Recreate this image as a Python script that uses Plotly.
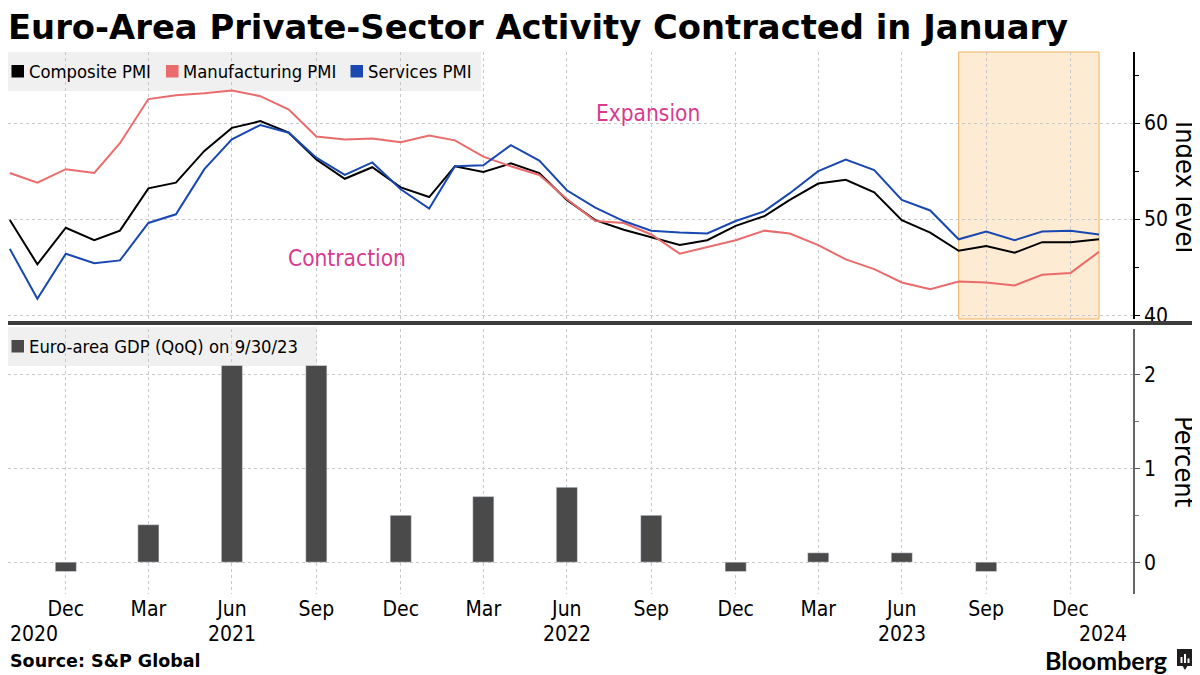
import pandas as pd
import plotly.graph_objects as go

# monthly PMI readings, Oct 2020 - Jan 2024 (month-end)
months = pd.date_range("2020-10-31", "2024-01-31", freq="ME")
composite = [49.9, 45.3, 49.1, 47.8, 48.8, 53.2, 53.8, 57.1, 59.5, 60.2, 59.0, 56.2,
             54.2, 55.4, 53.3, 52.3, 55.5, 54.9, 55.8, 54.8, 52.0, 49.9, 48.9, 48.1,
             47.3, 47.8, 49.3, 50.3, 52.0, 53.7, 54.1, 52.8, 49.9, 48.6, 46.7, 47.2,
             46.5, 47.6, 47.6, 47.9]
manufacturing = [54.8, 53.8, 55.2, 54.8, 57.9, 62.5, 62.9, 63.1, 63.4, 62.8, 61.4, 58.6,
                 58.3, 58.4, 58.0, 58.7, 58.2, 56.5, 55.5, 54.6, 52.1, 49.8, 49.6, 48.4,
                 46.4, 47.1, 47.8, 48.8, 48.5, 47.3, 45.8, 44.8, 43.4, 42.7, 43.5, 43.4,
                 43.1, 44.2, 44.4, 46.6]
services = [46.9, 41.7, 46.4, 45.4, 45.7, 49.6, 50.5, 55.2, 58.3, 59.8, 59.0, 56.4,
            54.6, 55.9, 53.1, 51.1, 55.5, 55.6, 57.7, 56.1, 53.0, 51.2, 49.8, 48.8,
            48.6, 48.5, 49.8, 50.8, 52.7, 55.0, 56.2, 55.1, 52.0, 50.9, 47.9, 48.7,
            47.8, 48.7, 48.8, 48.4]

# quarterly GDP growth (QoQ, %)
quarters = pd.date_range("2020-12-31", "2023-09-30", freq="QE")
gdp_qoq = [-0.1, 0.4, 2.1, 2.1, 0.5, 0.7, 0.8, 0.5, -0.1, 0.1, 0.1, -0.1]

tick_dates = pd.date_range("2020-12-31", "2023-12-31", freq="QE")
tick_text = [d.strftime("%b") for d in tick_dates]
year_labels = ["2020", "2021", "2022", "2023", "2024"]
year_pos = ["2020-11-26", "2021-06-30", "2022-06-30", "2023-06-30", "2024-02-04"]

# the page puts the figure 8px in from the corner, so size it to fill the rest
W, H = 1192, 667
PW, PH = 1125, 542          # plot area in px
def px(x):                  # screen x -> paper x
    return (x - 8) / PW
def py(y):                  # screen y -> paper y
    return (594 - y) / PH

FONT = "DejaVu Sans Condensed, DejaVu Sans"
BOLD = "DejaVu Sans"
C_COMP = "#000000"
C_MANU = "#ea6b6b"
C_SERV = "#1848b0"
C_GDP = "#4a4a4a"
PINK = "#d93a90"
GRID = "#c8c8c8"
LEG_BG = "#f0f0f0"

series = [("Composite PMI", composite, C_COMP),
          ("Manufacturing PMI", manufacturing, C_MANU),
          ("Services PMI", services, C_SERV)]

fig = go.Figure()
for name, vals, col in series:
    fig.add_trace(go.Scatter(x=months, y=vals, mode="lines", name=name,
                             line=dict(color=col, width=2), xaxis="x2", yaxis="y2"))
fig.add_trace(go.Bar(x=quarters, y=gdp_qoq, name="Euro-area GDP (QoQ) on 9/30/23",
                     marker_color=C_GDP, width=23 * 86400000, xaxis="x", yaxis="y"))

xrange = ["2020-10-29", "2024-03-08"]
axis_common = dict(showgrid=True, gridcolor=GRID, griddash="dot", gridwidth=1, zeroline=False)
split_top = py(319)
split_bot = py(329)

fig.update_layout(
    width=W, height=H, showlegend=False,
    margin=dict(l=0, r=W - PW, t=44, b=H - 44 - PH),
    plot_bgcolor="white", paper_bgcolor="white",
    font=dict(family=FONT, size=21, color="black"),
    title=dict(text="<b>Euro-Area Private-Sector Activity Contracted in January</b>",
               x=0, xanchor="left", y=1 - 19 / H, yanchor="middle",
               font=dict(family=BOLD, size=33.8, color="black")),
    xaxis=dict(domain=[0, 1], anchor="y", range=xrange, tickvals=tick_dates, ticktext=tick_text,
               ticks="", showline=False, automargin=False, **axis_common),
    xaxis2=dict(domain=[0, 1], anchor="y2", matches="x", range=xrange, tickvals=tick_dates,
                showticklabels=False, ticks="", showline=False, **axis_common),
    yaxis=dict(domain=[0, split_bot], anchor="x", side="right", range=[-0.34, 2.49],
               tick0=0, dtick=1, ticks="outside", ticklen=5, tickcolor="#555",
               showline=True, linecolor="#666", linewidth=1.5, automargin=False,
               minor=dict(dtick=0.5, ticks="outside", ticklen=4, tickcolor="#777", showgrid=False),
               **axis_common),
    yaxis2=dict(domain=[split_top, 1], anchor="x2", side="right", range=[39.6, 67.4],
                tick0=40, dtick=10, ticks="outside", ticklen=5, tickcolor="black",
                showline=True, linecolor="black", linewidth=1.5, automargin=False,
                minor=dict(dtick=5, ticks="outside", ticklen=4, tickcolor="black", showgrid=False),
                **axis_common),
)

# highlighted recent period
fig.add_shape(type="rect", xref="x2", yref="y2 domain", x0="2023-08-31", x1="2024-01-31",
              y0=0, y1=1, fillcolor="#fdebd3", line=dict(color="#f2b15c", width=1), layer="below")

# panel separator
fig.add_shape(type="line", xref="paper", yref="paper", x0=px(0), x1=px(1200), y0=py(323), y1=py(323),
              line=dict(color="#3c3c3c", width=4))


# Bloomberg-style legends: grey strip, square swatch, label
def legend_strip(x1, y0, y1, items):
    fig.add_shape(type="rect", xref="paper", yref="paper", x0=px(0), x1=px(x1),
                  y0=py(y1), y1=py(y0), fillcolor=LEG_BG, line=dict(width=0), layer="below")
    yc = (y0 + y1) / 2
    for sx, label, col in items:
        fig.add_shape(type="rect", xref="paper", yref="paper", x0=px(sx), x1=px(sx + 12.5),
                      y0=py(yc + 6), y1=py(yc - 6.5), fillcolor=col, line=dict(width=0))
        fig.add_annotation(text=label, x=px(sx + 15), y=py(yc), xref="paper", yref="paper",
                           xanchor="left", yanchor="middle", showarrow=False,
                           font=dict(size=18.3))


legend_strip(481, 52, 91, [(11.5, series[0][0], C_COMP), (166, series[1][0], C_MANU),
                           (350.5, series[2][0], C_SERV)])
legend_strip(317, 327, 366, [(11.5, "Euro-area GDP (QoQ) on 9/30/23", C_GDP)])

fig.add_annotation(text="Expansion", x="2022-09-26", y=61.0, xref="x2", yref="y2",
                   showarrow=False, font=dict(size=22.5, color=PINK))
fig.add_annotation(text="Contraction", x="2021-11-02", y=46.0, xref="x2", yref="y2",
                   showarrow=False, font=dict(size=22.5, color=PINK))

for lab, pos in zip(year_labels, year_pos):
    fig.add_annotation(text=lab, x=pos, y=py(634), xref="x", yref="paper", yanchor="middle",
                       showarrow=False, font=dict(size=21))

fig.add_annotation(text="Index level", x=px(1185), y=py(187), xref="paper", yref="paper",
                   xanchor="center", yanchor="middle", showarrow=False, textangle=90,
                   font=dict(size=27))
fig.add_annotation(text="Percent", x=px(1185), y=py(461), xref="paper", yref="paper",
                   xanchor="center", yanchor="middle", showarrow=False, textangle=90,
                   font=dict(size=27))

fig.add_annotation(text="<b>Source: S&P Global</b>", x=0, xanchor="left", yanchor="middle",
                   y=py(661), xref="paper", yref="paper", showarrow=False,
                   font=dict(family=BOLD, size=17.5))
fig.add_annotation(text="<b>Bloomberg</b>", x=px(1169), xanchor="right", yanchor="middle",
                   y=py(660), xref="paper", yref="paper", showarrow=False,
                   font=dict(family="Lato, Roboto", size=25))

# little chart-bubble logo
fig.add_shape(type="rect", xref="paper", yref="paper", x0=px(1177), x1=px(1193),
              y0=py(666), y1=py(649), fillcolor="#1e1e1e", line=dict(width=0))
fig.add_shape(type="path", xref="paper", yref="paper", fillcolor="#1e1e1e", line=dict(width=0),
              path=f"M {px(1182)} {py(665)} L {px(1188)} {py(665)} L {px(1185)} {py(670)} Z")
for bx, top in [(1180.5, 657), (1184, 654), (1187.5, 658.5)]:
    fig.add_shape(type="rect", xref="paper", yref="paper", x0=px(bx), x1=px(bx + 2),
                  y0=py(663), y1=py(top), fillcolor="white", line=dict(width=0))

fig.write_html("out.html")
